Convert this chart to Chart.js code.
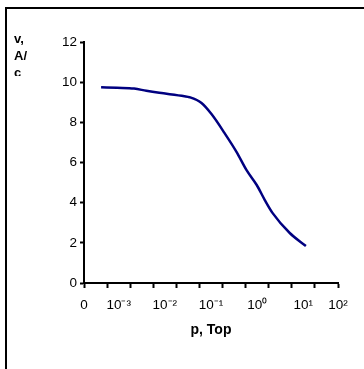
<!DOCTYPE html>
<html>
<head>
<meta charset="utf-8">
<script src="https://cdn.jsdelivr.net/npm/chart.js@4"></script>
<style>
  html, body { margin: 0; padding: 0; background: #fff; overflow: hidden; }
  #wrap { position: relative; width: 364px; height: 369px; overflow: hidden; }
  #frame { position: absolute; left: 5px; top: 7px; width: 400px; height: 400px; border: 2px solid #000; }
  #myChart { position: absolute; left: 0; top: 0; }
  #ytitle {
    position: absolute; left: 14px; top: 30px; height: 46px; overflow: hidden;
    font: bold 13px "Liberation Sans", Arial, sans-serif; line-height: 17px; color: #000;
  }
</style>
</head>
<body>
<div id="wrap">
  <div id="frame"></div>
  <canvas id="myChart" width="364" height="369"></canvas>
  <div id="ytitle">v,<br>A/<br>c</div>
</div>
<script>
// position along the x axis (axis units) and velocity
const xPos = [0.74, 1.43, 2.17, 2.70, 3.26, 4.35, 4.57, 5.09, 5.52, 6.09, 6.61, 7.04, 7.48, 7.83, 8.17, 8.91, 9.61];
const speed = [9.75, 9.72, 9.68, 9.57, 9.47, 9.30, 9.25, 8.96, 8.41, 7.46, 6.52, 5.62, 4.88, 4.13, 3.48, 2.49, 1.84];

// x tick marks and the pressure labels under them
const tickMarks = [0, 1, 2, 3, 4, 5, 6, 7, 8, 9, 10, 11];
const labelPos = [0, 1.5, 3.5, 5.5, 7.5, 9.5, 11];
const labelText = ['0', '10⁻³', '10⁻²', '10⁻¹', '10⁰', '10¹', '10²'];

const yTicks = [0, 2, 4, 6, 8, 10, 12];

const font = 'Liberation Sans, Arial, sans-serif';

const points = xPos.map((x, i) => ({ x: x, y: speed[i] }));

const ctx = document.getElementById('myChart').getContext('2d');
new Chart(ctx, {
    type: 'line',
    data: {
        datasets: [{
            data: points,
            borderColor: '#000080',
            borderWidth: 2.5,
            pointRadius: 0,
            fill: false,
            cubicInterpolationMode: 'monotone'
        }]
    },
    options: {
        responsive: false,
        animation: false,
        devicePixelRatio: 1,
        layout: { padding: { left: 44, right: 26, top: 42, bottom: 30 } },
        plugins: { legend: { display: false }, tooltip: { enabled: false } },
        scales: {
            x: {
                type: 'linear',
                min: 0,
                max: 11,
                afterBuildTicks: scale => {
                    const vals = Array.from(new Set(tickMarks.concat(labelPos))).sort((a, b) => a - b);
                    scale.ticks = vals.map(v => ({ value: v }));
                },
                afterFit: scale => { scale.height = 56; },
                ticks: {
                    autoSkip: false,
                    maxRotation: 0,
                    padding: 9,
                    color: '#000',
                    font: { family: font, size: 13.5 },
                    callback: value => {
                        const i = labelPos.indexOf(value);
                        return i >= 0 ? labelText[i] : '';
                    }
                },
                grid: {
                    drawOnChartArea: false,
                    drawTicks: true,
                    tickLength: 5,
                    tickWidth: 2,
                    tickColor: c => tickMarks.includes(c.tick.value) ? '#000' : 'rgba(0,0,0,0)'
                },
                border: { display: true, color: '#000', width: 2 },
                title: {
                    display: true,
                    text: 'p, Top',
                    color: '#000',
                    font: { family: font, size: 14, weight: 'bold' },
                    padding: { top: 0, bottom: 0 }
                }
            },
            y: {
                min: 0,
                max: 12,
                afterBuildTicks: scale => { scale.ticks = yTicks.map(v => ({ value: v })); },
                afterFit: scale => { scale.width = 40; },
                ticks: {
                    padding: 3,
                    color: '#000',
                    font: { family: font, size: 13.5 }
                },
                grid: {
                    drawOnChartArea: false,
                    drawTicks: true,
                    tickLength: 4,
                    tickWidth: 2,
                    tickColor: '#000'
                },
                border: { display: true, color: '#000', width: 2 }
            }
        }
    }
});
</script>
</body>
</html>
